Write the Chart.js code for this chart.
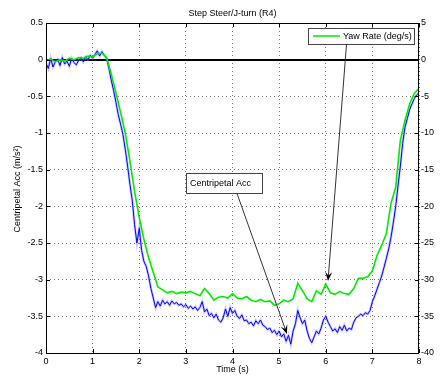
<!DOCTYPE html>
<html>
<head>
<meta charset="utf-8">
<script src="https://cdn.jsdelivr.net/npm/chart.js@4.4.1/dist/chart.umd.min.js"></script>
<style>
  html, body { margin: 0; padding: 0; background: #fff; }
  #wrap { width: 441px; height: 378px; }
</style>
</head>
<body>
<div id="wrap"><canvas id="myChart" width="441" height="378"></canvas></div>
<script>
// sampled every 0.05 s, m/s^2
const accStep = 0.05;
const centripetalAcc = [
  -0.05, -0.12, 0.02, -0.10, -0.03, 0.01, -0.08, 0.03, -0.06, -0.02,
  -0.09, 0.02, -0.04, -0.07, -0.01, 0.03, -0.03, 0.04, 0.00, 0.06,
  0.02, 0.07, 0.12, 0.05, 0.11, 0.06, 0.02, -0.12, -0.28, -0.42,
  -0.58, -0.75, -0.88, -1.02, -1.22, -1.45, -1.70, -1.92, -2.25, -2.50,
  -2.30, -2.60, -2.75, -2.82, -2.95, -3.12, -3.25, -3.38, -3.30, -3.36,
  -3.28, -3.33, -3.30, -3.35, -3.29, -3.33, -3.31, -3.35, -3.33, -3.37,
  -3.34, -3.39, -3.36, -3.40, -3.37, -3.42, -3.38, -3.30, -3.44, -3.40,
  -3.49, -3.46, -3.52, -3.47, -3.55, -3.58, -3.52, -3.40, -3.50, -3.38,
  -3.46, -3.42, -3.50, -3.53, -3.48, -3.56, -3.55, -3.60, -3.58, -3.63,
  -3.56, -3.60, -3.55, -3.62, -3.64, -3.68, -3.66, -3.72, -3.69, -3.75,
  -3.70, -3.78, -3.74, -3.84, -3.76, -3.88, -3.70, -3.60, -3.42, -3.52,
  -3.60, -3.55, -3.70, -3.80, -3.86, -3.78, -3.70, -3.74, -3.66, -3.55,
  -3.50, -3.58, -3.64, -3.70, -3.67, -3.72, -3.64, -3.69, -3.62, -3.70,
  -3.66, -3.68, -3.58, -3.52, -3.50, -3.47, -3.49, -3.45, -3.47, -3.42,
  -3.30, -3.22, -3.13, -3.04, -2.95, -2.83, -2.71, -2.58, -2.42, -2.22,
  -2.00, -1.72, -1.45, -1.14, -0.92, -0.80, -0.68, -0.60, -0.53, -0.48,
  -0.45
];

// sampled every 0.1 s, deg/s
const yawStep = 0.1;
const yawRate = [
  -0.2, 0.1, -0.3, 0.0, -0.2, 0.2, 0.0, 0.3, 0.2, 0.5,
  0.4, 0.8, 0.9, 0.3, -2.0, -4.5, -7.2, -10.0, -13.8, -18.0,
  -21.5, -24.5, -27.0, -29.0, -31.0, -31.4, -31.8, -31.6, -31.9, -31.7,
  -31.8, -31.6, -31.9, -32.2, -31.2, -31.9, -32.8, -32.4, -32.3, -32.5,
  -31.9, -32.5, -32.6, -32.3, -32.8, -33.0, -32.7, -33.0, -32.9, -33.5,
  -33.3, -32.8, -33.0, -32.6, -30.5, -31.5, -32.6, -33.0, -31.5, -32.0,
  -30.6, -31.8, -32.0, -31.6, -31.9, -32.0, -31.2, -29.8, -29.8, -29.6,
  -28.8, -26.7, -25.3, -23.7, -19.6, -17.4, -11.0, -8.3, -6.0, -4.6,
  -3.9
];

const xTicks = [0, 1, 2, 3, 4, 5, 6, 7, 8];
const accTicks = [0.5, 0, -0.5, -1, -1.5, -2, -2.5, -3, -3.5, -4];
const yawTicks = [5, 0, -5, -10, -15, -20, -25, -30, -35, -40];

const chartTitle = 'Step Steer/J-turn (R4)';
const xTitle = 'Time (s)';
const yTitle = 'Centripetal Acc (m/s\u00B2)';
const yawLabel = 'Yaw Rate (deg/s)';
const accLabel = 'Centripetal Acc';

const FONT = '"Liberation Sans", Arial, Helvetica, sans-serif';
const FS = 9;

const accPoints = centripetalAcc.map((v, i) => ({ x: +(i * accStep).toFixed(2), y: v }));
const yawPoints = yawRate.map((v, i) => ({ x: +(i * yawStep).toFixed(2), y: v }));

function arrow(ctx, x1, y1, x2, y2) {
  const a = Math.atan2(y2 - y1, x2 - x1);
  const len = 9, w = 3.5;
  ctx.strokeStyle = '#333';
  ctx.lineWidth = 1;
  ctx.beginPath();
  ctx.moveTo(x1, y1);
  ctx.lineTo(x2 - Math.cos(a) * len * 0.6, y2 - Math.sin(a) * len * 0.6);
  ctx.stroke();
  ctx.fillStyle = '#000';
  ctx.beginPath();
  ctx.moveTo(x2, y2);
  ctx.lineTo(x2 - Math.cos(a) * len + Math.sin(a) * w, y2 - Math.sin(a) * len - Math.cos(a) * w);
  ctx.lineTo(x2 - Math.cos(a) * len * 0.6, y2 - Math.sin(a) * len * 0.6);
  ctx.lineTo(x2 - Math.cos(a) * len - Math.sin(a) * w, y2 - Math.sin(a) * len + Math.cos(a) * w);
  ctx.closePath();
  ctx.fill();
}

const decorations = {
  id: 'decorations',
  beforeDatasetsDraw(chart) {
    const { ctx, chartArea: ca, scales } = chart;
    // zero line
    const y0 = Math.round(scales.y.getPixelForValue(0));
    ctx.save();
    ctx.strokeStyle = '#000';
    ctx.lineWidth = 2;
    ctx.beginPath();
    ctx.moveTo(ca.left, y0);
    ctx.lineTo(ca.right, y0);
    ctx.stroke();
    ctx.restore();
  },
  afterDraw(chart) {
    const { ctx, chartArea: ca, scales } = chart;
    ctx.save();
    // box
    ctx.strokeStyle = '#000';
    ctx.lineWidth = 1;
    ctx.strokeRect(ca.left + 0.5, ca.top + 0.5, ca.right - ca.left - 1, ca.bottom - ca.top);
    // inward ticks
    ctx.beginPath();
    xTicks.forEach(t => {
      const x = Math.round(scales.x.getPixelForValue(t)) + 0.5;
      ctx.moveTo(x, ca.bottom); ctx.lineTo(x, ca.bottom - 4);
      ctx.moveTo(x, ca.top); ctx.lineTo(x, ca.top + 4);
    });
    accTicks.forEach(t => {
      const y = Math.round(scales.y.getPixelForValue(t)) + 0.5;
      ctx.moveTo(ca.left, y); ctx.lineTo(ca.left + 4, y);
    });
    yawTicks.forEach(t => {
      const y = Math.round(scales.y2.getPixelForValue(t)) + 0.5;
      ctx.moveTo(ca.right, y); ctx.lineTo(ca.right - 4, y);
    });
    ctx.stroke();

    // titles
    ctx.fillStyle = '#000';
    ctx.font = FS + 'px ' + FONT;
    ctx.textAlign = 'center';
    ctx.textBaseline = 'middle';
    ctx.fillText(chartTitle, (ca.left + ca.right) / 2, 14);
    ctx.fillText(xTitle, (ca.left + ca.right) / 2, 370);
    ctx.save();
    ctx.translate(18, 189);
    ctx.rotate(-Math.PI / 2);
    ctx.fillText(yTitle, 0, 0);
    ctx.restore();

    // yaw rate legend box
    ctx.fillStyle = '#fff';
    ctx.fillRect(308.5, 28.5, 106, 16);
    ctx.strokeStyle = '#444';
    ctx.strokeRect(308.5, 28.5, 106, 16);
    ctx.strokeStyle = 'rgb(0,235,0)';
    ctx.lineWidth = 1.5;
    ctx.beginPath();
    ctx.moveTo(313, 36); ctx.lineTo(340, 36);
    ctx.stroke();
    ctx.fillStyle = '#000';
    ctx.textAlign = 'left';
    ctx.fillText(yawLabel, 343, 36.5);

    // centripetal acc text box
    ctx.fillStyle = '#fff';
    ctx.fillRect(186.5, 173.5, 76, 20);
    ctx.strokeStyle = '#444';
    ctx.lineWidth = 1;
    ctx.strokeRect(186.5, 173.5, 76, 20);
    ctx.fillStyle = '#000';
    ctx.fillText(accLabel, 190, 183.5);

    // arrows
    arrow(ctx, 346.5, 44.5, 328, 281);
    arrow(ctx, 237, 193.5, 287, 334);
    ctx.restore();
  }
};

const tickFont = { size: FS, family: FONT };

const ctx = document.getElementById('myChart').getContext('2d');
const myChart = new Chart(ctx, {
  type: 'line',
  data: {
    datasets: [
      {
        label: yawLabel,
        data: yawPoints,
        yAxisID: 'y2',
        borderColor: 'rgb(0,235,0)',
        borderWidth: 1.6,
        pointRadius: 0,
        tension: 0,
        order: 0
      },
      {
        label: accLabel,
        data: accPoints,
        yAxisID: 'y',
        borderColor: 'rgb(0,0,255)',
        borderWidth: 1,
        pointRadius: 0,
        tension: 0,
        order: 1
      },
      {
        label: 'acc halo',
        data: accPoints,
        yAxisID: 'y',
        borderColor: 'rgba(130,130,255,0.45)',
        borderWidth: 2.5,
        pointRadius: 0,
        tension: 0,
        order: 2
      }
    ]
  },
  options: {
    responsive: false,
    animation: false,
    events: [],
    layout: { padding: { top: 23, left: 0, right: 0, bottom: 0 } },
    plugins: { legend: { display: false }, title: { display: false }, tooltip: { enabled: false } },
    scales: {
      x: {
        type: 'linear',
        min: 0, max: 8,
        afterFit: s => { s.height = 25; },
        afterBuildTicks: s => { s.ticks = xTicks.map(v => ({ value: v })); },
        ticks: { color: '#000', padding: 3, font: tickFont, maxRotation: 0, callback: v => String(v) },
        grid: { color: 'rgba(0,0,0,0.55)', drawTicks: false },
        border: { display: false, dash: [1, 3] }
      },
      y: {
        type: 'linear',
        position: 'left',
        min: -4, max: 0.5,
        afterFit: s => { s.width = 46; },
        afterBuildTicks: s => { s.ticks = accTicks.map(v => ({ value: v })); },
        ticks: { color: '#000', padding: 3, font: tickFont, callback: v => String(v) },
        grid: { color: 'rgba(0,0,0,0.55)', drawTicks: false },
        border: { display: false, dash: [1, 3] }
      },
      y2: {
        type: 'linear',
        position: 'right',
        min: -40, max: 5,
        afterFit: s => { s.width = 22; },
        afterBuildTicks: s => { s.ticks = yawTicks.map(v => ({ value: v })); },
        ticks: { color: '#000', padding: 2, font: tickFont, callback: v => String(v) },
        grid: { drawOnChartArea: false, drawTicks: false },
        border: { display: false }
      }
    }
  },
  plugins: [decorations]
});
</script>
</body>
</html>
